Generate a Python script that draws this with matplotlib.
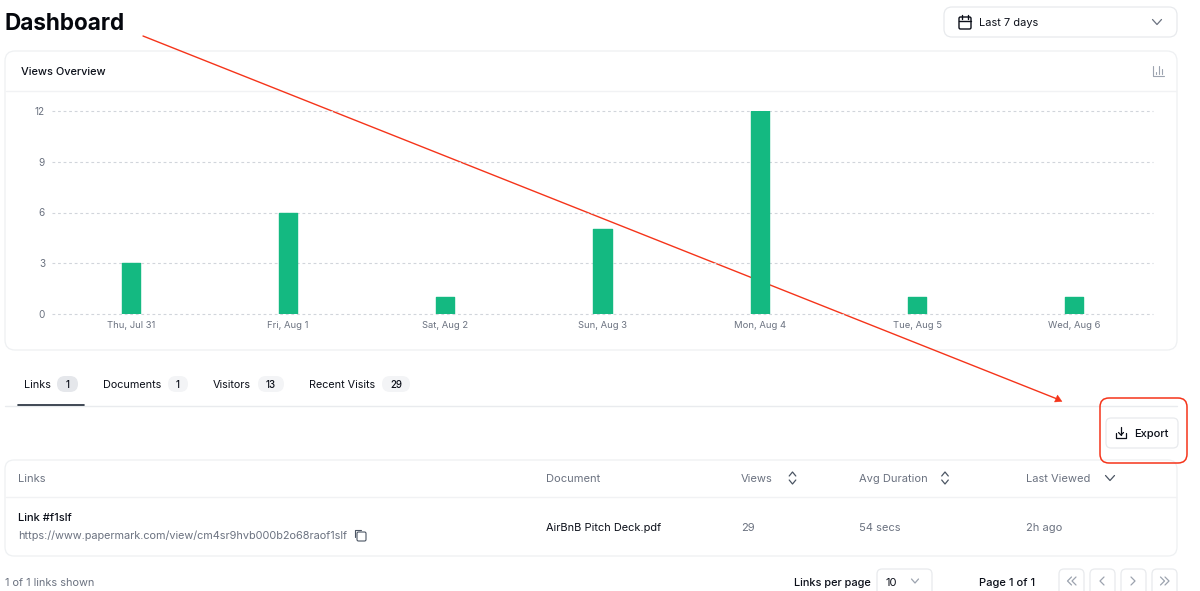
import matplotlib
matplotlib.use('Agg')
import matplotlib.pyplot as plt
from matplotlib.patches import FancyBboxPatch, Polygon

plt.rcParams['font.family'] = ['Inter', 'DejaVu Sans']

days = ['Thu, Jul 31', 'Fri, Aug 1', 'Sat, Aug 2', 'Sun, Aug 3', 'Mon, Aug 4', 'Tue, Aug 5', 'Wed, Aug 6']
views = [3, 6, 1, 5, 12, 1, 1]
y_ticks = [0, 3, 6, 9, 12]

tab_names = ['Links', 'Documents', 'Visitors', 'Recent Visits']
tab_counts = ['1', '1', '13', '29']
columns = ['Links', 'Document', 'Views', 'Avg Duration', 'Last Viewed']

DARK = '#0b0f19'
GREY = '#6b7280'
BORDER = '#eef0f2'
GREEN = '#14b981'
RED = '#f5341a'

fig = plt.figure(figsize=(12, 5.91), dpi=100, facecolor='white')

# whole page in pixel coordinates, for the ui around the chart
ui = fig.add_axes([0, 0, 1, 1], zorder=0)
ui.set_xlim(0, 1200)
ui.set_ylim(591, 0)
ui.axis('off')


def Box(x0, y0, x1, y1, r=8, ec=BORDER, fc='white', lw=0.9, z=1):
    ui.add_patch(FancyBboxPatch((x0 + r, y0 + r), x1 - x0 - 2 * r, y1 - y0 - 2 * r,
                                boxstyle=f'round,pad={r},rounding_size={r}',
                                ec=ec, fc=fc, lw=lw, zorder=z))


def Label(x, y, s, size=8.0, color=DARK, weight='normal', ha='left'):
    # va center sits high against the reference
    ui.text(x, y + 3, s, fontsize=size, color=color, fontweight=weight, ha=ha, va='center', zorder=5)


def Line(xs, ys, color=DARK, lw=1.0, z=4):
    ui.plot(xs, ys, color=color, lw=lw, zorder=z, solid_capstyle='round', solid_joinstyle='round')


def Chevron(x, y, w=4.5, h=2.5, up=False, color=GREY):
    s = -1 if up else 1
    Line([x - w, x, x + w], [y - s * h, y + s * h, y - s * h], color=color, lw=0.9)


def SideChevron(x, y, left=True, color='#9ca3af'):
    s = -1 if left else 1
    Line([x - s * 2, x + s * 2, x - s * 2], [y - 4, y, y + 4], color=color, lw=0.9)


Label(5, 21, 'Dashboard', size=16.2, weight='bold', color='#05070d')

# date picker
Box(944, 7, 1177, 37, ec='#e8eaed')
Label(979, 20, 'Last 7 days', size=7.9)
Box(959, 17, 971, 29, r=1.5, ec=DARK, lw=1.0, z=4)
Line([959, 971], [20.5, 20.5])
Line([962, 962], [15, 18.5])
Line([968, 968], [15, 18.5])
Chevron(1157, 22, w=4.5, h=2.5)

# chart card
Box(5, 51, 1177, 350, r=10)
Line([6, 1176], [91, 91], color='#f1f2f4', z=2)
Label(21, 69, 'Views Overview', size=7.9, weight='medium')
Line([1153, 1153, 1164], [66, 76, 76], color='#9ca3af', lw=0.8)
for bx, top in zip([1156, 1159, 1162], [72, 66, 69]):
    Line([bx, bx], [top, 74], color='#9ca3af', lw=0.8)

# tabs
tab_x = [24, 103, 213, 309]
badge_x = [(57, 78), (168, 188), (258, 284), (382, 410)]
for i, (name, count) in enumerate(zip(tab_names, tab_counts)):
    Label(tab_x[i], 382, name, size=7.8)
    x0, x1 = badge_x[i]
    Box(x0, 376, x1, 392, r=8, ec='none', fc='#e5e7eb' if i == 0 else '#f3f4f6', z=2)
    Label((x0 + x1) / 2, 382, count, size=7.0, weight='medium', ha='center')
Line([5, 1177], [405.5, 405.5], color='#e9ebee', lw=1.0, z=2)
Line([18, 84], [404.5, 404.5], color='#1f2937', lw=1.2, z=3)

# export button
Box(1106, 418, 1178, 448, r=5, ec='#e8eaed')
Label(1134, 431, 'Export', size=8.0, weight='medium')
Line([1116, 1116, 1126, 1126], [433, 437.5, 437.5, 433], lw=0.9)
Line([1121, 1121], [427, 434.5], lw=0.9)
Line([1118.5, 1121, 1123.5], [432.5, 435, 432.5], lw=0.9)

# table
Box(5, 460, 1177, 556, r=9)
Line([6, 1176], [496.5, 496.5], color='#f1f2f4', z=2)
col_x = [18, 546, 741, 859, 1026]
for x, name in zip(col_x, columns):
    Label(x, 476, name, size=8.0, color=GREY)
for x in [792.5, 945]:
    Chevron(x, 474, w=3.3, h=2, up=True, color='#4b5563')
    Chevron(x, 482, w=3.3, h=2, color='#4b5563')
Chevron(1110, 478, w=4.5, h=2.5, color='#4b5563')

Label(18, 515, 'Link #f1slf', size=8.0, weight='medium')
Label(18, 533, 'https://www.papermark.com/view/cm4sr9hvb000b2o68raof1slf', size=7.85, color=GREY)
Box(357, 532, 366, 541, r=1.5, ec='#4b5563', lw=0.8, z=4)
Line([354.5, 354.5, 361], [537, 529.5, 529.5], color='#4b5563', lw=0.8)
Label(546, 525, 'AirBnB Pitch Deck.pdf', size=7.9)
Label(741, 525, '29', size=8.0, color=GREY)
Label(859, 525, '54 secs', size=8.0, color=GREY)
Label(1026, 525, '2h ago', size=8.0, color=GREY)

# footer
Label(5, 580, '1 of 1 links shown', size=7.85, color=GREY)
Label(794, 580, 'Links per page', size=7.9, weight='medium')
Box(877, 569, 932, 600, r=5, ec='#e8eaed')
Label(886, 580, '10', size=8.0)
Chevron(915, 581, w=3.5, h=2, color='#9ca3af')
Label(979, 580, 'Page 1 of 1', size=8.0, weight='medium')
for x0 in [1059, 1090, 1121, 1152]:
    Box(x0, 569, x0 + 25, 600, r=5, ec='#e8eaed')
for x in [1069.5, 1074, 1102]:
    SideChevron(x, 581, left=True)
for x in [1133, 1162.5, 1167]:
    SideChevron(x, 581, left=False)

# annotation arrow and highlight
Line([143, 1056], [36, 398.5], color=RED, lw=1.0, z=8)
ui.add_patch(Polygon([(1062, 401.5), (1054.5, 402), (1057.5, 395)], closed=True, fc=RED, ec=RED, lw=0.3, zorder=8))
Box(1100, 398, 1187, 463, r=9, ec=RED, fc='none', lw=1.1, z=8)

# the chart itself
left = 52.0 / 1200
right = 1153.0 / 1200
y0_px = 314.0
y12_px = 111.0
ax = fig.add_axes([left, 1 - y0_px / 591, right - left, (y0_px - y12_px) / 591], zorder=2)
ax.patch.set_alpha(0)
ax.bar(range(len(days)), views, width=0.116, color=GREEN, edgecolor=GREEN, lw=1.0,
       joinstyle='round', zorder=3)
ax.set_xlim(-0.5, len(days) - 0.5)
ax.set_ylim(0, 12)
ax.set_yticks(y_ticks)
ax.set_xticks(range(len(days)))
ax.set_xticklabels(days)
ax.tick_params(axis='both', length=0, labelsize=6.8, labelcolor='#6b7280')
ax.tick_params(axis='y', labelsize=7.2, pad=5)
ax.tick_params(axis='x', pad=5)
ax.grid(axis='y', color='#d1d5db', lw=0.8, ls=(0, (2.5, 2.5)), zorder=0)
ax.set_axisbelow(True)
for gl in ax.get_ygridlines():
    gl.set_clip_on(False)
for s in ax.spines.values():
    s.set_visible(False)

fig.savefig('out.png', dpi=100)
